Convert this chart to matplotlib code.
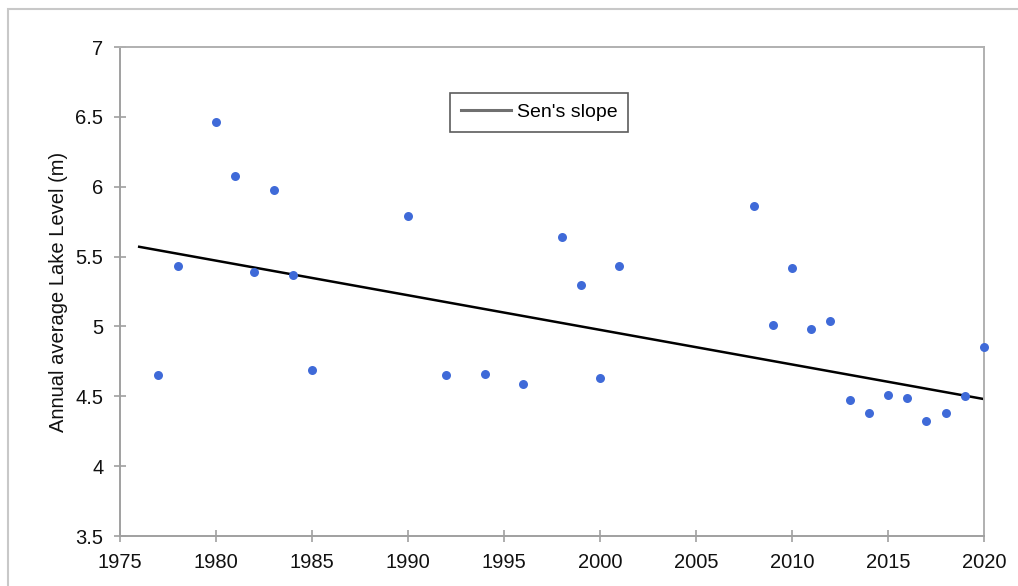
import matplotlib
matplotlib.use("Agg")
import matplotlib.pyplot as plt
from matplotlib.patches import Rectangle
from matplotlib.lines import Line2D

plt.rcParams['font.family'] = ['Liberation Sans', 'DejaVu Sans']

years = [1977, 1978, 1980, 1981, 1982, 1983, 1984, 1985, 1990, 1992, 1994, 1996,
         1998, 1999, 2000, 2001, 2008, 2009, 2010, 2011, 2012, 2013, 2014, 2015,
         2016, 2017, 2018, 2019, 2020]
levels = [4.65, 5.43, 6.46, 6.08, 5.39, 5.98, 5.37, 4.69, 5.79, 4.65, 4.66, 4.59,
          5.64, 5.30, 4.63, 5.43, 5.86, 5.01, 5.42, 4.98, 5.04, 4.47, 4.38, 4.51,
          4.49, 4.32, 4.38, 4.50, 4.85]
sen_x = [1976, 2020]
sen_y = [5.57, 4.48]

xticks = [1975, 1980, 1985, 1990, 1995, 2000, 2005, 2010, 2015, 2020]
yticks = [3.5, 4, 4.5, 5, 5.5, 6, 6.5, 7]
ytick_labels = ['3.5', '4', '4.5', '5', '5.5', '6', '6.5', '7']

W, H = 1018, 586
fig = plt.figure(figsize=(W/100, H/100), dpi=100)
ax = fig.add_axes([120/W, 1-536/H, (984-120)/W, (536-47)/H])

# figure border
fig.patches.append(Rectangle((8/W, -0.05), 1.2, 1-9/H+0.05, transform=fig.transFigure,
                             fill=False, edgecolor='#c8c8c8', linewidth=1.5))

ax.plot(sen_x, sen_y, color='black', linewidth=1.8, zorder=2)
ax.scatter(years, levels, s=42, color='#3f6ad8', zorder=3, linewidths=0, clip_on=False)

h = Line2D([], [], color='#707070', linewidth=2.2)
leg = ax.legend([h], ["Sen's slope"], loc='upper left',
                bbox_to_anchor=((450-120)/(984-120), 1-(93-47)/(536-47)),
                fontsize=14, frameon=True, fancybox=False, handlelength=2.6,
                borderpad=0.55, handletextpad=0.3, borderaxespad=0)
leg.get_frame().set_edgecolor('#333333')
leg.get_frame().set_linewidth(1.2)

ax.set_xlim(1975, 2020)
ax.set_ylim(3.5, 7)
ax.set_xticks(xticks)
ax.set_yticks(yticks)
ax.set_yticklabels(ytick_labels)
ax.tick_params(axis='both', direction='inout', length=8, width=1.2, color='#a0a0a0',
               labelsize=14.5, labelcolor='#111111')
ax.tick_params(axis='y', pad=8)
ax.tick_params(axis='x', pad=8)
for s in ax.spines.values():
    s.set_color('#b0b0b0')
    s.set_linewidth(1.4)
ax.spines['left'].set_color('#a0a0a0')
ax.spines['bottom'].set_color('#a0a0a0')

ax.set_ylabel('Annual average Lake Level (m)', fontsize=14.5, color='#111111')
ax.yaxis.set_label_coords((68-120)/(984-120), 0.5)

fig.savefig('out.png', dpi=100)
